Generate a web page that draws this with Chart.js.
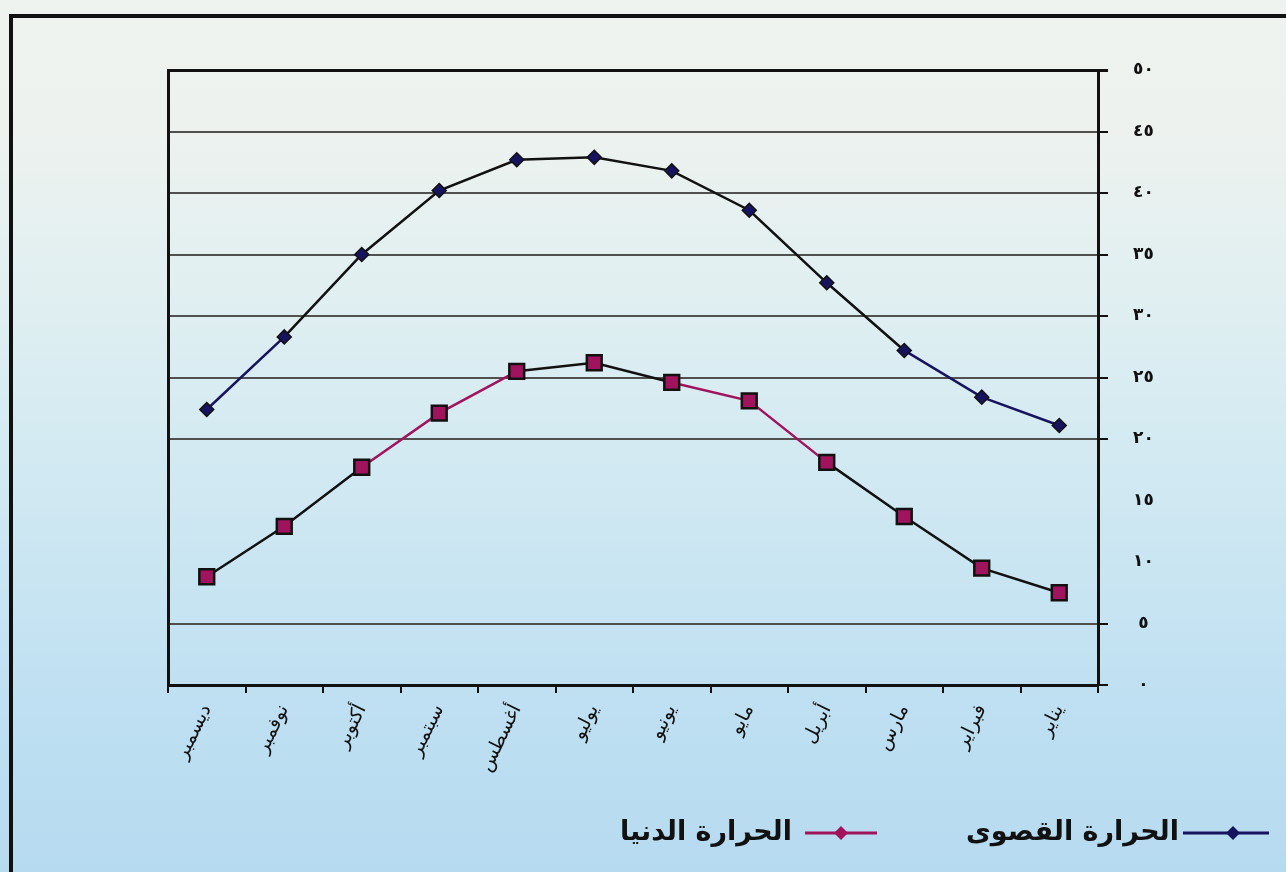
<!DOCTYPE html>
<html><head><meta charset="utf-8">
<script src="https://cdn.jsdelivr.net/npm/chart.js@4.4.1/dist/chart.umd.min.js"></script>
<style>
html,body{margin:0;padding:0;width:1286px;height:872px;overflow:hidden;}
body{background:linear-gradient(to bottom,#eef3ef 0px,#edf2ef 130px,#e0eff1 300px,#d3eaf2 450px,#c7e4f2 600px,#bfe0f2 700px,#b6daf0 872px);}
#frame{position:absolute;left:9px;top:14px;width:1400px;height:1000px;border:4px solid #111;box-sizing:border-box;}
#wrap{position:absolute;left:0;top:0;width:1286px;height:872px;}
</style></head>
<body><div id="frame"></div><div id="wrap"><canvas id="c" width="1286" height="872"></canvas></div>
<script>
const months = ['يناير','فبراير','مارس','أبريل','مايو','يونيو','يوليو','أغسطس','سبتمبر','أكتوبر','نوفمبر','ديسمبر'];
const maxTemp = [21.1, 23.4, 27.2, 32.7, 38.6, 41.8, 42.9, 42.7, 40.2, 35.0, 28.3, 22.4];
const minTemp = [7.5, 9.5, 13.7, 18.1, 23.1, 24.6, 26.2, 25.5, 22.1, 17.7, 12.9, 8.8];
const seriesNames = ['الحرارة القصوى', 'الحرارة الدنيا'];
const yTickLabels = ['٠','٥','١٠','١٥','٢٠','٢٥','٣٠','٣٥','٤٠','٤٥','٥٠'];

const NAVY = '#16145e', MAG = '#a0145e', BLK = '#111111';
const maxSegColors = [NAVY, NAVY, BLK, BLK, BLK, BLK, BLK, BLK, BLK, BLK, NAVY];
const minSegColors = [BLK, BLK, BLK, MAG, MAG, BLK, BLK, MAG, MAG, BLK, BLK];

const legendPlugin = {
  id: 'arLegend',
  afterDraw(chart) {
    const ctx = chart.ctx;
    const items = [
      {text: chart.data.datasets[0].label, color: NAVY, textRight: 1179, lineL: 1183, lineR: 1269, mark: 1233},
      {text: chart.data.datasets[1].label, color: MAG, textRight: 792, lineL: 805, lineR: 877, mark: 841}
    ];
    const y = 833;
    ctx.save();
    items.forEach(it => {
      ctx.strokeStyle = it.color; ctx.lineWidth = 3;
      ctx.beginPath(); ctx.moveTo(it.lineL, y); ctx.lineTo(it.lineR, y); ctx.stroke();
      ctx.fillStyle = it.color;
      ctx.beginPath();
      ctx.moveTo(it.mark - 7, y); ctx.lineTo(it.mark, y - 7); ctx.lineTo(it.mark + 7, y); ctx.lineTo(it.mark, y + 7);
      ctx.closePath(); ctx.fill();
      ctx.fillStyle = '#111';
      ctx.font = 'bold 27px "DejaVu Sans"';
      ctx.direction = 'rtl';
      ctx.textAlign = 'right';
      ctx.textBaseline = 'middle';
      ctx.fillText(it.text, it.textRight, y);
    });
    ctx.restore();
  }
};

new Chart(document.getElementById('c'), {
  type: 'line',
  data: {
    labels: months,
    datasets: [
      {
        label: seriesNames[0], data: maxTemp,
        borderColor: BLK, borderWidth: 2.5, tension: 0,
        segment: { borderColor: c => maxSegColors[c.p0DataIndex] },
        pointStyle: 'rectRot', pointRadius: 7, pointHoverRadius: 7,
        pointBackgroundColor: NAVY, pointBorderColor: BLK, pointBorderWidth: 1.5
      },
      {
        label: seriesNames[1], data: minTemp,
        borderColor: BLK, borderWidth: 2.5, tension: 0,
        segment: { borderColor: c => minSegColors[c.p0DataIndex] },
        pointStyle: 'rect', pointRadius: 10.5, pointHoverRadius: 10.5,
        pointBackgroundColor: MAG, pointBorderColor: BLK, pointBorderWidth: 2.5
      }
    ]
  },
  options: {
    responsive: false, animation: false, devicePixelRatio: 1,
    layout: { padding: { left: 168, top: 70, right: 0, bottom: 0 } },
    plugins: { legend: { display: false }, tooltip: { enabled: false } },
    scales: {
      x: {
        type: 'category', reverse: true, offset: true,
        grid: { offset: true, drawOnChartArea: false, drawTicks: true, tickLength: 8, color: BLK, lineWidth: 2 },
        border: { display: true, color: BLK, width: 3 },
        ticks: { minRotation: 64, maxRotation: 64, autoSkip: false, color: BLK, padding: 8,
                 font: { family: 'DejaVu Sans', size: 19 } },
        afterFit: s => { s.height = 187; }
      },
      y: {
        position: 'right', min: 0, max: 50,
        grid: {
          color: c => (c.tick && (c.tick.value === 10 || c.tick.value === 15)) ? 'rgba(0,0,0,0)' : (c.tick && c.tick.value === 50 ? BLK : '#505050'),
          lineWidth: c => (c.tick && c.tick.value === 50) ? 3 : 2,
          tickColor: c => (c.tick && (c.tick.value === 10 || c.tick.value === 15)) ? 'rgba(0,0,0,0)' : BLK,
          tickLength: 10, drawTicks: true
        },
        border: { display: true, color: BLK, width: 3 },
        ticks: { stepSize: 5, crossAlign: 'center', padding: 25, color: BLK,
                 font: { family: 'DejaVu Sans', size: 17, weight: 'bold' },
                 callback: (v, i) => yTickLabels[Math.round(v / 5)] },
        afterFit: s => { s.width = 188; }
      },
      yL: {
        position: 'left', min: 0, max: 50, display: true,
        ticks: { display: false },
        grid: { drawOnChartArea: false, drawTicks: false },
        border: { display: true, color: BLK, width: 3 },
        afterFit: s => { s.width = 0; }
      }
    }
  },
  plugins: [legendPlugin]
});
</script>
</body></html>
